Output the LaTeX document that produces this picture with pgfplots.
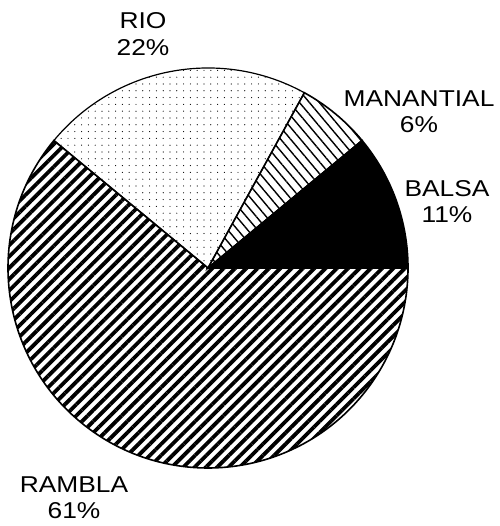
\documentclass[border=0pt]{standalone}
\usepackage{pgfplots}
\pgfplotsset{compat=1.18}
\usepackage{pgfplotstable}
\usepackage{fontspec}
\setmainfont{Liberation Sans}
\usetikzlibrary{patterns.meta}

\pgfplotstableread{
name value
BALSA 11
MANANTIAL 6
RIO 22
RAMBLA 61
}\piedata

\begin{document}%
\begin{tikzpicture}
\pgfplotstablegetelem{0}{value}\of\piedata \let\vA\pgfplotsretval
\pgfplotstablegetelem{1}{value}\of\piedata \let\vB\pgfplotsretval
\pgfplotstablegetelem{2}{value}\of\piedata \let\vC\pgfplotsretval
\pgfplotstablegetelem{3}{value}\of\piedata \let\vD\pgfplotsretval
\pgfmathsetmacro\aA{3.6*\vA}
\pgfmathsetmacro\aB{\aA+3.6*\vB}
\pgfmathsetmacro\aC{\aB+3.6*\vC}
\pgfmathsetmacro\aD{\aC+3.6*\vD}
\begin{axis}[x=0.5bp,y=0.5bp,xmin=0,xmax=500,ymin=0,ymax=526,
  hide axis, clip=false, enlargelimits=false, anchor=origin, at={(0,0)}]
\coordinate (LL) at (axis cs:0,0);
\coordinate (UR) at (axis cs:500,526);
% BALSA
\filldraw[fill=black, line width=0.8bp] (axis cs:208,258) -- ++(0:100bp) arc[start angle=0, end angle=\aA, radius=100bp] -- cycle;
% MANANTIAL
\draw[pattern={Lines[angle=-50,distance=3.8bp,line width=0.7bp]}, line width=0.8bp] (axis cs:208,258) -- ++(\aA:100bp) arc[start angle=\aA, end angle=\aB, radius=100bp] -- cycle;
% RIO
\draw[pattern={Dots[distance=3.4bp,radius=0.3bp]}, line width=0.6bp] (axis cs:208,258) -- ++(\aB:100bp) arc[start angle=\aB, end angle=\aC, radius=100bp] -- cycle;
% RAMBLA
\draw[pattern={Lines[angle=45,distance=4bp,line width=1.9bp]}, line width=0.8bp] (axis cs:208,258) -- ++(\aC:100bp) arc[start angle=\aC, end angle=\aD, radius=100bp] -- cycle;
% labels
\tikzset{lbl/.style={align=center, inner sep=0pt, xscale=1.15, font=\fontsize{11.5}{13.2}\selectfont}}
\node[lbl] at (axis cs:143,492) {RIO\\\vC\%};
\node[lbl] at (axis cs:419,414.5) {MANANTIAL\\\vB\%};
\node[lbl] at (axis cs:447,324.5) {BALSA\\\vA\%};
\node[lbl] at (axis cs:74,28) {RAMBLA\\\vD\%};
\end{axis}
\pgfresetboundingbox
\path[use as bounding box] (LL) rectangle (UR);
\end{tikzpicture}%
\end{document}
